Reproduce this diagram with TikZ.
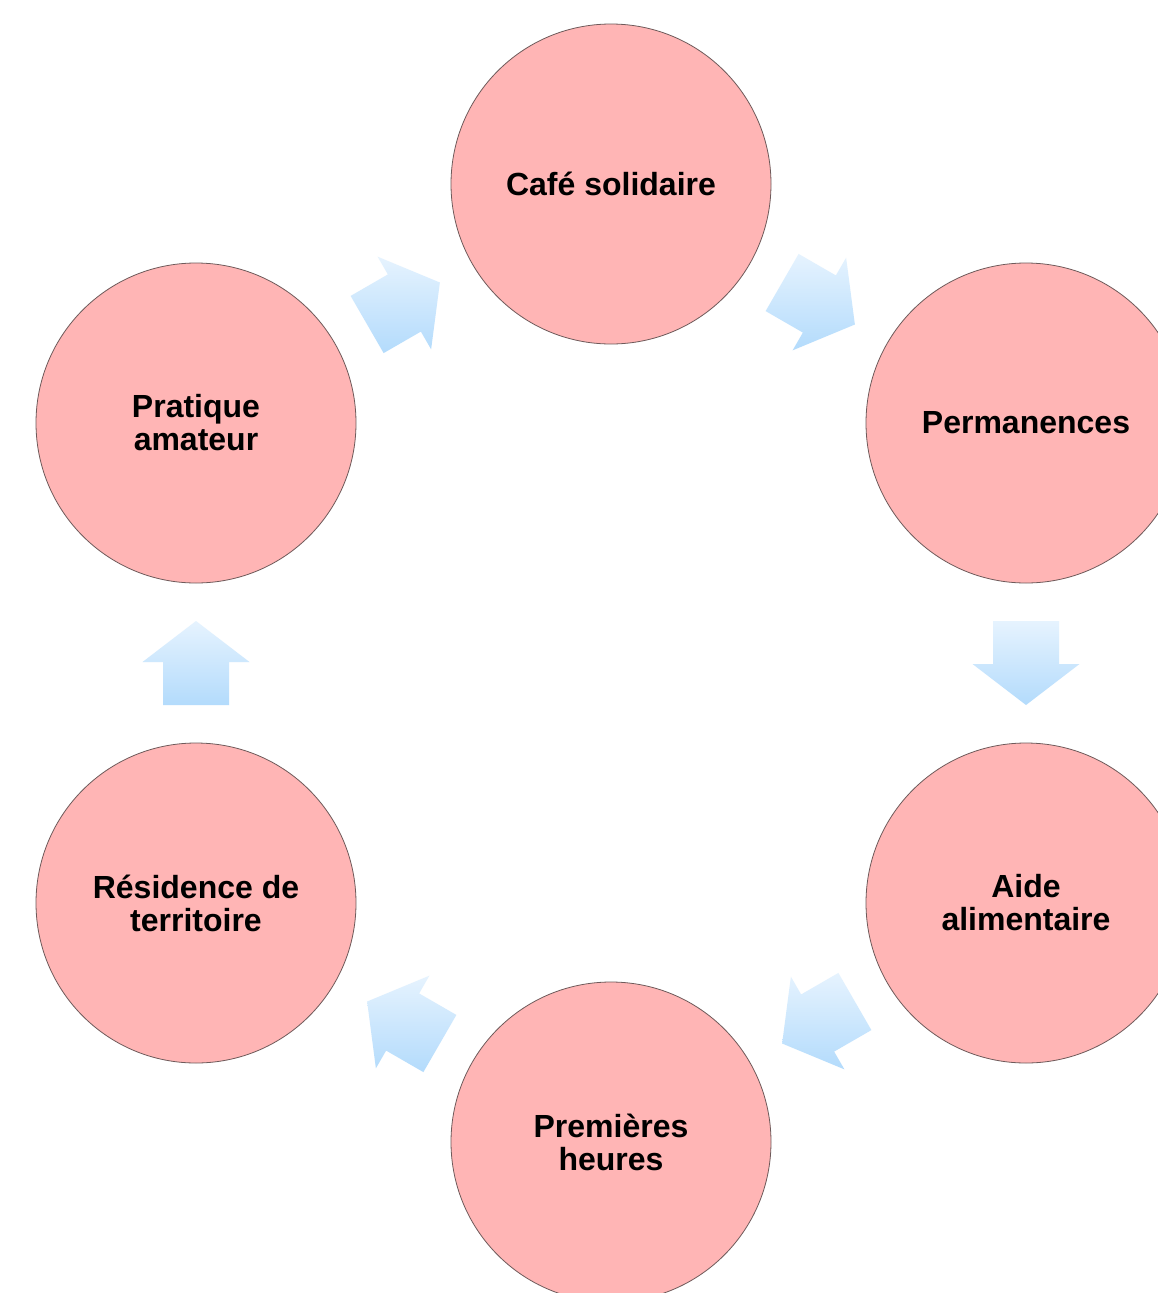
\documentclass[tikz,border=0pt]{standalone}
\usepackage{fontspec}
\setmainfont{Liberation Sans}
\usetikzlibrary{calc}
\definecolor{circfill}{HTML}{FFB5B5}
\definecolor{circline}{HTML}{6E5A5A}
\definecolor{arrtop}{HTML}{E6F3FE}
\definecolor{arrbot}{HTML}{B3DBFC}
\tikzset{
  stage/.style={circle, minimum size=320pt, inner sep=0pt, fill=circfill, draw=circline, line width=0.8pt,
    align=center, font=\fontsize{32}{33}\selectfont\bfseries, text=black},
  arrowfill/.style={top color=arrtop, bottom color=arrbot, draw=none}
}
\begin{document}
\begin{tikzpicture}[x=1pt,y=-1pt]
\useasboundingbox (0,0) rectangle (1158,1293);
\fill[white] (0,0) rectangle (1158,1293);
\clip (0,0) rectangle (1158,1293);
\node[stage] (cafe) at (611,184) {Café solidaire};
\node[stage] (perm) at (1026,423) {Permanences};
\node[stage] (aide) at (1026,903) {Aide\\alimentaire};
\node[stage] (prem) at (611,1142) {Premières\\heures};
\node[stage] (resi) at (196,903) {Résidence de\\territoire};
\node[stage] (prat) at (196,423) {Pratique\\amateur};
\foreach \a/\b/\ang/\i in {cafe/perm/-30/1, perm/aide/-90/2, aide/prem/-150/3, prem/resi/150/4, resi/prat/90/5, prat/cafe/30/6} {
  \coordinate (m\i) at ($(\a)!0.5!(\b)$);
  \begin{scope}[shift={(m\i)}, rotate=\ang]
    \coordinate (q\i a) at (-42,-33);
    \coordinate (q\i b) at (1,-33);
    \coordinate (q\i c) at (1,-53.5);
    \coordinate (q\i d) at (42,0);
    \coordinate (q\i e) at (1,53.5);
    \coordinate (q\i f) at (1,33);
    \coordinate (q\i g) at (-42,33);
  \end{scope}
  \shade[arrowfill] (q\i a) -- (q\i b) -- (q\i c) -- (q\i d) -- (q\i e) -- (q\i f) -- (q\i g) -- cycle;
}
\end{tikzpicture}
\end{document}
